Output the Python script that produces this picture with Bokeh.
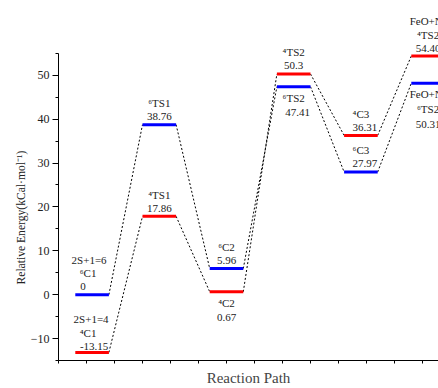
from bokeh.plotting import figure
from bokeh.models import ColumnDataSource, FixedTicker, Range1d, LabelSet, Title
from bokeh.embed import file_html
from bokeh.resources import INLINE

# ---- data ----
states = ["C1", "TS1", "C2", "TS2", "C3", "TS3"]
quartet = [-13.15, 17.86, 0.67, 50.3, 36.31, 54.40]
sextet = [0.0, 38.76, 5.96, 47.41, 27.97, 48.2]
quartet_labels = [["2S+1=4", "\u2074C1", "-13.15"], ["\u2074TS1", "17.86"], ["\u2074C2", "0.67"],
                  ["\u2074TS2", "50.3"], ["\u2074C3", "36.31"], ["FeO+N\u2082", "\u2074TS2", "54.40"]]
sextet_labels = [["2S+1=6", "\u2076C1", "0"], ["\u2076TS1", "38.76"], ["\u2076C2", "5.96"],
                 ["\u2076TS2", "47.41"], ["\u2076C3", "27.97"], ["FeO+N\u2082", "\u2076TS2", "50.31"]]
y_ticks = [-10, 0, 10, 20, 30, 40, 50]
y_minor = [-15, -5, 5, 15, 25, 35, 45, 55]
y_axis_min, y_axis_max = -15, 55
x_title = "Reaction Path"
y_title = "Relative Energy(kCal\u00b7mol\u207b\u00b9)"

# ---- layout helpers ----
STEP = 2.4      # distance between states (x units)
HALF = 0.6      # half width of a level
FIRST = 1.2     # centre of the first state
centers = [FIRST + STEP * i for i in range(len(states))]

quartet_side = ["above", "above", "below", "above", "above", "above"]
sextet_side = ["above", "above", "above", "below", "above", "below"]

FONT = "Liberation Serif"
RED = "#FF0000"
BLUE = "#0000FF"

PX_PER_UNIT = 4.4   # vertical scale
TOP_PAD = 45        # room above the axis for labels (px)

p = figure(width=438, height=388, output_backend="svg", toolbar_location=None,
           x_range=Range1d(0, 380 / 28),
           y_range=Range1d(y_axis_min, y_axis_max + TOP_PAD / PX_PER_UNIT),
           min_border_left=58, min_border_top=8, min_border_bottom=27, min_border_right=0)
p.outline_line_color = None
p.grid.visible = False
p.background_fill_color = "white"
p.border_fill_color = "white"

# connectors
for vals, col in ((quartet, RED), (sextet, BLUE)):
    for i in range(len(vals) - 1):
        p.line([centers[i] + HALF, centers[i + 1] - HALF], [vals[i], vals[i + 1]],
               line_color="black", line_width=1, line_dash="2 2")

# levels
for vals, col in ((quartet, RED), (sextet, BLUE)):
    src = ColumnDataSource(dict(x0=[c - HALF for c in centers], x1=[c + HALF for c in centers], y=vals))
    p.segment(x0="x0", y0="y", x1="x1", y1="y", source=src, line_color=col, line_width=3)

# labels
tx, ty, tt, tox, toy = [], [], [], [], []
xo_special = {("s", 0, 2): -9, ("s", 0, 1): -4, ("s", 0, 0): -3,
              ("q", 0, 1): -4, ("q", 0, 2): 2, ("q", 0, 0): -1,
              ("s", 3, 1): 4, ("q", 4, 1): 4, ("s", 4, 1): 4}
yo_level = {("q", 0): 2}
for tag, vals, labs, sides in (("q", quartet, quartet_labels, quartet_side),
                               ("s", sextet, sextet_labels, sextet_side)):
    for i, (v, lines, side) in enumerate(zip(vals, labs, sides)):
        n = len(lines)
        for j, s in enumerate(lines):
            if side == "above":
                off = -8 - 13.5 * (n - 1 - j)
            else:
                off = 11 + 15 * j
            off += yo_level.get((tag, i), 0)
            tx.append(centers[i]); ty.append(v); tt.append(s)
            tox.append(xo_special.get((tag, i, j), 0)); toy.append(-off)
lsrc = ColumnDataSource(dict(x=tx, y=ty, text=tt, xo=tox, yo=toy))
labels = LabelSet(x="x", y="y", text="text", x_offset="xo", y_offset="yo", source=lsrc,
                  text_font=FONT, text_font_size="11px", text_color="#222222",
                  text_align="center", text_baseline="middle")
p.add_layout(labels)

# axes
xa = p.xaxis[0]
xa.ticker = FixedTicker(ticks=list(range(0, 15)))
xa.major_tick_in = 0
xa.major_tick_out = 3
xa.minor_tick_line_color = None
xa.major_label_overrides = {i: "" for i in range(0, 15)}
xa.major_label_text_font_size = "1px"
xa.major_label_standoff = 0
xa.axis_label = x_title
xa.axis_label_text_font = FONT
xa.axis_label_text_font_size = "15px"
xa.axis_label_text_font_style = "normal"
xa.axis_label_standoff = 6
xa.axis_line_color = "black"

ya = p.yaxis[0]
ya.bounds = (y_axis_min, y_axis_max)
ya.ticker = FixedTicker(ticks=y_ticks, minor_ticks=y_minor)
ya.major_tick_in = 0
ya.major_tick_out = 6
ya.minor_tick_in = 0
ya.minor_tick_out = 3
ya.major_label_standoff = 3
ya.major_label_text_font = FONT
ya.major_label_text_font_size = "12px"
ya.major_label_text_color = "#222222"
ya.axis_line_color = "black"

# y title placed as a side title so it can be centred on the drawn axis
yt = Title(text=y_title, align="left", offset=76, standoff=0,
           text_font=FONT, text_font_size="11.6px", text_font_style="normal",
           text_color="#222222")
p.add_layout(yt, "left")

open("out.html", "w").write(file_html(p, INLINE))
